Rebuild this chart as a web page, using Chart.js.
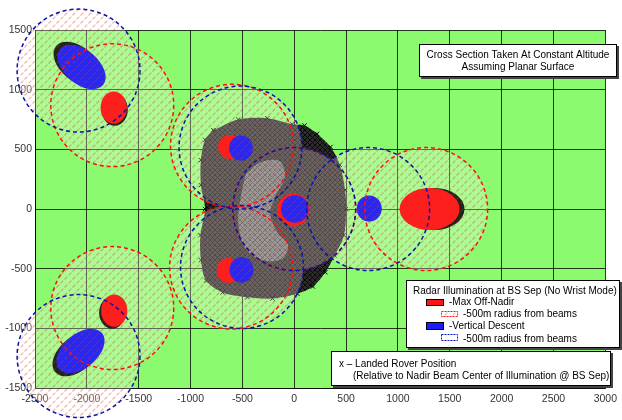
<!DOCTYPE html>
<html>
<head>
<meta charset="utf-8">
<script src="https://cdn.jsdelivr.net/npm/chart.js@4.4.1/dist/chart.umd.min.js"></script>
<style>
    body {margin: 0; background: #fff;}
    #wrap {width: 622px; height: 420px;}
</style>
</head>
<body>
<div id="wrap"><canvas id="myChart" width="622" height="420"></canvas></div>
<script>
// axis ticks (m)
const xTicks = [-2500, -2000, -1500, -1000, -500, 0, 500, 1000, 1500, 2000, 2500, 3000];
const yTicks = [-1500, -1000, -500, 0, 500, 1000, 1500];

// beam centres (m, relative to nadir beam centre) and 500m radius ring (as drawn)
const offNadirX = [-1755, -600, 0, -609, 1272, -1755];
const offNadirY = [870, 530, 0, -490, 0, -830];
const verticalX = [-2080, -518, 0, -504, 713, -2080];
const verticalY = [1160, 515, 0, -486, 0, -1232];
const beamRadius = 515;

// illuminated footprints (centre, semi axes m, tilt deg)
const offNadirSpotX = [-1741, -619, -10, -633, 1305, -1736];
const offNadirSpotY = [850, 520, -8, -515, 0, -851];
const offNadirSpotA = [110, 100, 134, 100, 251, 110];
const offNadirSpotB = [135, 100, 138, 104, 176, 135];
const offNadirSpotRot = [0, 0, 0, 0, 0, 0];
const verticalSpotX = [-2051, -514, 5, -509, 723, -2061];
const verticalSpotY = [1190, 511, 0, -511, 4, -1190];
const verticalSpotA = [235, 100, 115, 100, 105, 235];
const verticalSpotB = [142, 105, 115, 108, 110, 142];
const verticalSpotRot = [-40, 0, 0, 0, 0, 40];

// landed rover positions: outline of the scatter cloud and its sparser core
const roverX = [-780, -540, -260, -20, 100, 220, 350, 440, 490, 500, 480, 390, 300, 180, 30, -210, -450, -690, -850, -900, -905, -860, -900, -900, -860];
const roverY = [660, 750, 760, 710, 700, 630, 520, 370, 160, 0, -220, -390, -530, -650, -710, -750, -740, -700, -600, -430, -220, 0, 200, 410, 580];
const coreX = [-470, -330, -140, -90, -180, -230, -160, -60, -120, -300, -470, -540, -520];
const coreY = [290, 390, 400, 270, 110, -40, -200, -300, -420, -430, -330, -120, 80];

// style only
const offNadirShade = [[1, 2], [0, 0], [0, 0], [0, 0], [5, 0], [-2, 2]];
const verticalShade = [[-4, -3], [0, 0], [0, 0], [0, 0], [0, 0], [-4, 3]];
const FONT = '"Liberation Sans", Arial, sans-serif';

function makePattern(w, h, draw) {
    const c = document.createElement('canvas');
    c.width = w;
    c.height = h;
    draw(c.getContext('2d'));
    return c.getContext('2d').createPattern(c, 'repeat');
}

const hatch = makePattern(8, 8, function (p) {
    p.strokeStyle = 'rgba(225,50,10,0.36)';
    p.lineWidth = 1.3;
    p.beginPath();
    p.moveTo(0.5, 7.5); p.lineTo(3.2, 4.8);
    p.moveTo(4.6, 3.4); p.lineTo(7.4, 0.6);
    p.stroke();
});
const cloudFill = makePattern(5, 5, function (p) {
    p.fillStyle = '#2c2c2c';
    p.fillRect(0, 0, 5, 5);
    p.strokeStyle = '#080808';
    p.lineWidth = 1;
    p.beginPath();
    p.moveTo(0, 0); p.lineTo(5, 5);
    p.moveTo(5, 0); p.lineTo(0, 5);
    p.stroke();
});
const coreFill = makePattern(5, 5, function (p) {
    p.fillStyle = '#767676';
    p.fillRect(0, 0, 5, 5);
    p.strokeStyle = '#444';
    p.lineWidth = 1;
    p.beginPath();
    p.moveTo(0, 0); p.lineTo(5, 5);
    p.moveTo(5, 0); p.lineTo(0, 5);
    p.stroke();
});

function pts(xs, ys) {
    const d = xs.map((x, i) => ({x: x, y: ys[i]}));
    d.push({x: xs[0], y: ys[0]});
    return d;
}

function box(ctx, l, t, r, b) {
    ctx.fillStyle = '#444';
    ctx.fillRect(l + 2, t + 2, r - l, b - t);
    ctx.fillStyle = '#fff';
    ctx.fillRect(l, t, r - l, b - t);
    ctx.strokeStyle = '#000';
    ctx.lineWidth = 1;
    ctx.setLineDash([]);
    ctx.strokeRect(l + 0.5, t + 0.5, r - l - 1, b - t - 1);
}

const beamPlugin = {
    id: 'beams',
    beforeDraw(chart) {
        const {ctx, chartArea: a} = chart;
        ctx.save();
        ctx.fillStyle = '#8cfa6e';
        ctx.fillRect(a.left, a.top, a.width, a.height);
        ctx.restore();
    },
    afterDatasetsDraw(chart) {
        const {ctx, chartArea: a} = chart, x = chart.scales.x, y = chart.scales.y;
        const m = Math.abs(y.getPixelForValue(0) - y.getPixelForValue(1000)) / 1000;
        const r = beamRadius * m;

        const rings = function () {
            ctx.beginPath();
            [[offNadirX, offNadirY], [verticalX, verticalY]].forEach(function (s) {
                for (let i = 0; i < s[0].length; i++) {
                    const px = x.getPixelForValue(s[0][i]), py = y.getPixelForValue(s[1][i]);
                    ctx.moveTo(px + r, py);
                    ctx.arc(px, py, r, 0, Math.PI * 2);
                }
            });
        };
        const spots = function (xs, ys, as, bs, rots, shade, color) {
            for (let i = 0; i < xs.length; i++) {
                const px = x.getPixelForValue(xs[i]), py = y.getPixelForValue(ys[i]);
                const rot = -rots[i] * Math.PI / 180;
                if (shade[i][0] || shade[i][1]) {
                    ctx.save();
                    ctx.filter = 'blur(0.5px)';
                    ctx.fillStyle = 'rgba(15,15,15,0.9)';
                    ctx.beginPath();
                    ctx.ellipse(px + shade[i][0], py + shade[i][1], as[i] * m, bs[i] * m, rot, 0, Math.PI * 2);
                    ctx.fill();
                    ctx.restore();
                }
                ctx.fillStyle = color;
                ctx.beginPath();
                ctx.ellipse(px, py, as[i] * m, bs[i] * m, rot, 0, Math.PI * 2);
                ctx.fill();
            }
        };

        // light fill over the union of the rings
        ctx.save();
        rings();
        ctx.fillStyle = 'rgba(255,255,255,0.27)';
        ctx.fill('nonzero');
        ctx.restore();

        ctx.save();
        ctx.beginPath();
        ctx.rect(a.left, a.top, a.width, a.height);
        ctx.clip();
        spots(offNadirSpotX, offNadirSpotY, offNadirSpotA, offNadirSpotB, offNadirSpotRot, offNadirShade, '#ff1e1e');
        spots(verticalSpotX, verticalSpotY, verticalSpotA, verticalSpotB, verticalSpotRot, verticalShade, '#2828f4');
        ctx.restore();

        ctx.save();
        rings();
        ctx.fillStyle = hatch;
        ctx.fill('nonzero');
        ctx.lineWidth = 1.5;
        ctx.setLineDash([4, 3]);
        [[offNadirX, offNadirY, '#ff1010'], [verticalX, verticalY, '#0a14a8']].forEach(function (s) {
            ctx.strokeStyle = s[2];
            for (let i = 0; i < s[0].length; i++) {
                ctx.beginPath();
                ctx.arc(x.getPixelForValue(s[0][i]), y.getPixelForValue(s[1][i]), r, 0, Math.PI * 2);
                ctx.stroke();
            }
        });
        ctx.restore();
    },
    afterDraw(chart) {
        const ctx = chart.ctx;
        ctx.save();
        ctx.font = '10px ' + FONT;
        ctx.textBaseline = 'middle';

        box(ctx, 419, 44, 617, 77);
        ctx.fillStyle = '#000';
        ctx.textAlign = 'center';
        ctx.fillText('Cross Section Taken At Constant Altitude', 518, 55);
        ctx.fillText('Assuming Planar Surface', 518, 67);

        box(ctx, 406, 280, 620, 348);
        ctx.textAlign = 'left';
        ctx.fillStyle = '#000';
        ctx.fillText('Radar Illumination at BS Sep (No Wrist Mode)', 413, 291);
        ctx.fillStyle = '#ff1414';
        ctx.fillRect(426, 299, 18, 7);
        ctx.strokeRect(426.5, 299.5, 17, 6);
        ctx.fillStyle = '#000';
        ctx.fillText('-Max Off-Nadir', 449, 302);
        ctx.fillStyle = hatch;
        ctx.fillRect(441, 311, 17, 6);
        ctx.setLineDash([2, 1]);
        ctx.strokeStyle = '#ff1010';
        ctx.strokeRect(441.5, 311.5, 16, 5);
        ctx.setLineDash([]);
        ctx.fillStyle = '#000';
        ctx.fillText('-500m radius from beams', 463, 314);
        ctx.fillStyle = '#1c1cff';
        ctx.fillRect(426, 322, 18, 8);
        ctx.strokeStyle = '#000';
        ctx.strokeRect(426.5, 322.5, 17, 7);
        ctx.fillStyle = '#000';
        ctx.fillText('-Vertical Descent', 449, 326);
        ctx.setLineDash([2, 1]);
        ctx.strokeStyle = '#0a14c8';
        ctx.strokeRect(441.5, 334.5, 16, 6);
        ctx.setLineDash([]);
        ctx.fillStyle = '#000';
        ctx.fillText('-500m radius from beams', 463, 339);

        box(ctx, 331, 351, 611, 386);
        ctx.fillStyle = '#000';
        ctx.fillText('x \u2013 Landed Rover Position', 339, 364);
        ctx.fillText('(Relative to Nadir Beam Center of Illumination @ BS Sep)', 353, 376);
        ctx.restore();
    }
};

const myChart = new Chart(document.getElementById('myChart'), {
    type: 'line',
    plugins: [beamPlugin],
    data: {
        datasets: [
            {
                label: 'sparse core',
                data: pts(coreX, coreY),
                fill: 'shape',
                backgroundColor: coreFill,
                borderWidth: 0,
                pointRadius: 0,
                tension: 0.35
            },
            {
                label: 'Landed Rover Position',
                data: pts(roverX, roverY),
                fill: 'shape',
                backgroundColor: cloudFill,
                borderColor: '#111',
                borderWidth: 0,
                pointStyle: 'crossRot',
                pointRadius: 3,
                pointBorderColor: '#000',
                pointBorderWidth: 1,
                tension: 0.3
            }
        ]
    },
    options: {
        responsive: false,
        animation: false,
        layout: {padding: {top: 30, right: 11, left: 0, bottom: 0}, autoPadding: false},
        plugins: {legend: {display: false}, tooltip: {enabled: false}},
        scales: {
            x: {
                type: 'linear', min: -2500, max: 3000,
                afterBuildTicks: s => { s.ticks = xTicks.map(v => ({value: v})); },
                afterFit: s => { s.height = 32; },
                grid: {color: 'rgba(0,0,0,0.78)', drawTicks: false},
                border: {color: 'rgba(0,0,0,0.78)'},
                ticks: {color: '#333', padding: 5, maxRotation: 0, font: {family: FONT, size: 10.5}, callback: v => String(v)}
            },
            y: {
                type: 'linear', min: -1500, max: 1500,
                afterBuildTicks: s => { s.ticks = yTicks.map(v => ({value: v})); },
                afterFit: s => { s.width = 35; },
                grid: {color: 'rgba(0,0,0,0.78)', drawTicks: false},
                border: {color: 'rgba(0,0,0,0.78)'},
                ticks: {color: '#333', padding: 3, font: {family: FONT, size: 10.5}, callback: v => String(v)}
            }
        }
    }
});
</script>
</body>
</html>
